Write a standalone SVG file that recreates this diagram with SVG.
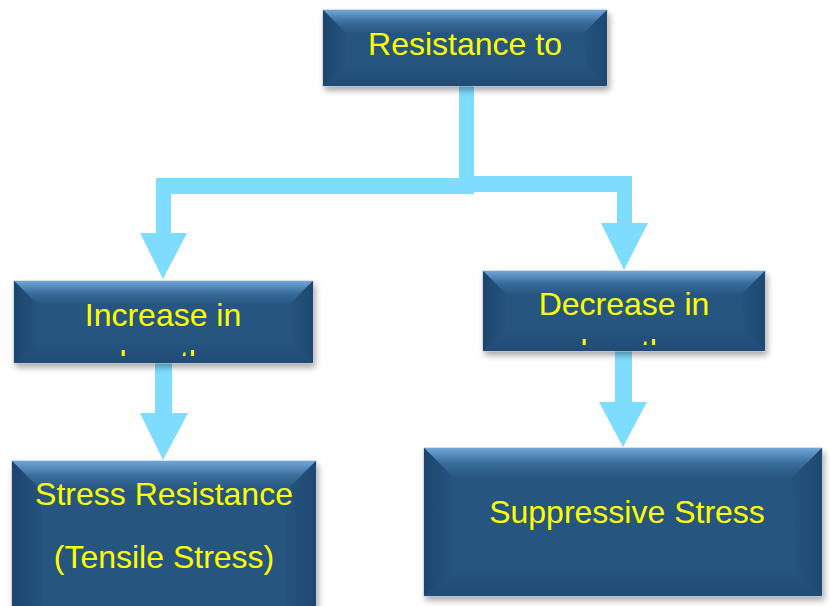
<svg xmlns="http://www.w3.org/2000/svg" width="830" height="606" viewBox="0 0 830 606">
<defs>
<linearGradient id="topG" x1="0" y1="0" x2="0" y2="1">
<stop offset="0" stop-color="#6FA5D8"/>
<stop offset="0.5" stop-color="#3A6D9C"/>
<stop offset="1" stop-color="#25547F"/>
</linearGradient>
<linearGradient id="leftG" x1="0" y1="0" x2="1" y2="0">
<stop offset="0" stop-color="#1B456D"/>
<stop offset="1" stop-color="#25547F"/>
</linearGradient>
<linearGradient id="rightG" x1="0" y1="0" x2="1" y2="0">
<stop offset="0" stop-color="#25547F"/>
<stop offset="1" stop-color="#1D4870"/>
</linearGradient>
<linearGradient id="botG" x1="0" y1="0" x2="0" y2="1">
<stop offset="0" stop-color="#25547F"/>
<stop offset="1" stop-color="#204B75"/>
</linearGradient>
<filter id="shadow" x="-10%" y="-10%" width="120%" height="130%">
<feDropShadow dx="2" dy="4" stdDeviation="3" flood-color="#000" flood-opacity="0.35"/>
</filter>
<clipPath id="clipL"><rect x="14" y="281" width="299" height="75"/></clipPath>
<clipPath id="clipR"><rect x="483" y="271" width="282" height="74"/></clipPath>
</defs>
<style>
.base{fill:#25547F;stroke:#A9B4C0;stroke-width:0.8}
.top{fill:url(#topG)}
.left{fill:url(#leftG)}
.right{fill:url(#rightG)}
.bot{fill:url(#botG)}
.lbl{font-family:"Liberation Sans",Arial,sans-serif;font-size:32px;fill:#FFFF00;text-anchor:middle}
.conn{fill:#7EDCFF}
</style>

<g id="connectors">
<rect class="conn" x="459" y="84" width="15" height="110"/>
<rect class="conn" x="156" y="178" width="317" height="16"/>
<rect class="conn" x="156" y="178" width="15" height="56"/>
<polygon class="conn" points="140,233 187,233 163,279"/>
<rect class="conn" x="473" y="176" width="159" height="16"/>
<rect class="conn" x="617" y="176" width="15" height="48"/>
<polygon class="conn" points="601,223 648,223 624,270"/>
<rect class="conn" x="155" y="362" width="17" height="52"/>
<polygon class="conn" points="140,413 188,413 163,460"/>
<rect class="conn" x="615" y="350" width="17" height="53"/>
<polygon class="conn" points="599,402 647,402 623,447"/>
</g>

<g id="node-top">
<g filter="url(#shadow)">
<rect class="base" x="323" y="10" width="284" height="76"/>
</g>
<polygon class="top" points="323,10 607,10 583,34 347,34"/>
<polygon class="left" points="323,10 347,34 347,66 323,86"/>
<polygon class="right" points="607,10 607,86 587,66 583,34"/>
<polygon class="bot" points="323,86 347,66 587,66 607,86"/>
<text class="lbl" x="465" y="55">Resistance to</text>
</g>

<g id="node-increase">
<g filter="url(#shadow)">
<rect class="base" x="14" y="281" width="299" height="82"/>
</g>
<polygon class="top" points="14,281 313,281 289,305 38,305"/>
<polygon class="left" points="14,281 38,305 38,343 14,363"/>
<polygon class="right" points="313,281 313,363 293,343 289,305"/>
<polygon class="bot" points="14,363 38,343 293,343 313,363"/>
<g clip-path="url(#clipL)">
<text class="lbl" x="163" y="326">Increase in</text>
<text class="lbl" x="163" y="373">length</text>
</g>
</g>

<g id="node-decrease">
<g filter="url(#shadow)">
<rect class="base" x="483" y="271" width="282" height="80"/>
</g>
<polygon class="top" points="483,271 765,271 741,295 507,295"/>
<polygon class="left" points="483,271 507,295 507,331 483,351"/>
<polygon class="right" points="765,271 765,351 745,331 741,295"/>
<polygon class="bot" points="483,351 507,331 745,331 765,351"/>
<g clip-path="url(#clipR)">
<text class="lbl" x="624" y="315">Decrease in</text>
<text class="lbl" x="624" y="362">length</text>
</g>
</g>

<g id="node-tensile">
<g filter="url(#shadow)">
<rect class="base" x="12" y="461" width="304" height="160"/>
</g>
<polygon class="top" points="12,461 316,461 286,491 42,491"/>
<polygon class="left" points="12,461 42,491 42,621 12,621"/>
<polygon class="right" points="316,461 316,621 286,621 286,491"/>
<text class="lbl" x="164" y="505">Stress Resistance</text>
<text class="lbl" x="164" y="568">(Tensile Stress)</text>
</g>

<g id="node-suppressive">
<g filter="url(#shadow)">
<rect class="base" x="424" y="448" width="398" height="148"/>
</g>
<polygon class="top" points="424,448 822,448 792,478 454,478"/>
<polygon class="left" points="424,448 454,478 454,570 424,596"/>
<polygon class="right" points="822,448 822,596 796,570 792,478"/>
<polygon class="bot" points="424,596 454,570 796,570 822,596"/>
<text class="lbl" x="627" y="523">Suppressive Stress</text>
</g>
</svg>
